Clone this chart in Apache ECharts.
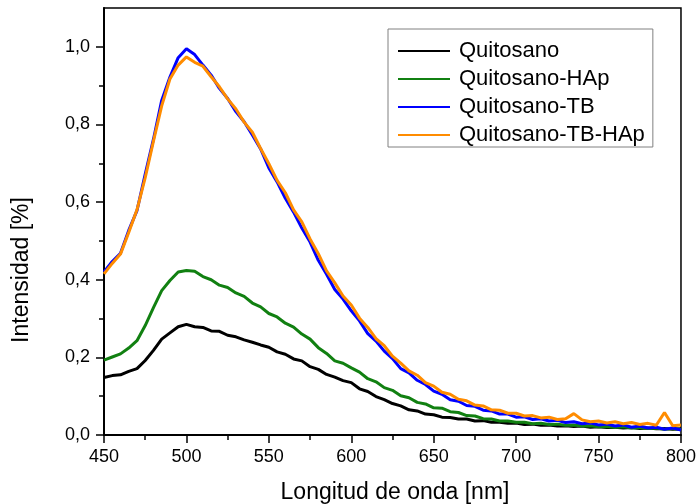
<!DOCTYPE html>
<html>
<head>
<meta charset="utf-8">
<script src="https://cdn.jsdelivr.net/npm/echarts@6/dist/echarts.min.js"></script>
<style>
html,body{margin:0;padding:0;background:#fff;}
#chart{width:699px;height:504px;}
</style>
</head>
<body>
<div id="chart"></div>
<script>
var wavelength = [450,455,460,465,470,475,480,485,490,495,500,505,510,515,520,525,530,535,540,545,550,555,560,565,570,575,580,585,590,595,600,605,610,615,620,625,630,635,640,645,650,655,660,665,670,675,680,685,690,695,700,705,710,715,720,725,730,735,740,745,750,755,760,765,770,775,780,785,790,795,800];

var quitosano = [0.148,0.153,0.155,0.164,0.171,0.192,0.218,0.247,0.263,0.279,0.285,0.279,0.277,0.268,0.267,0.257,0.253,0.245,0.239,0.232,0.226,0.214,0.208,0.196,0.191,0.176,0.169,0.156,0.149,0.140,0.135,0.119,0.112,0.099,0.091,0.081,0.075,0.065,0.062,0.054,0.052,0.046,0.045,0.041,0.041,0.036,0.037,0.033,0.033,0.030,0.031,0.027,0.028,0.025,0.026,0.023,0.024,0.022,0.023,0.020,0.021,0.019,0.020,0.018,0.019,0.017,0.018,0.016,0.017,0.015,0.016];

var quitosanoHAp = [0.193,0.201,0.209,0.224,0.243,0.282,0.328,0.372,0.398,0.420,0.424,0.422,0.408,0.400,0.386,0.380,0.366,0.357,0.340,0.330,0.313,0.304,0.288,0.278,0.260,0.247,0.225,0.210,0.191,0.185,0.173,0.162,0.145,0.137,0.122,0.115,0.101,0.096,0.084,0.080,0.070,0.069,0.060,0.058,0.050,0.049,0.042,0.041,0.036,0.036,0.033,0.033,0.029,0.030,0.027,0.028,0.025,0.026,0.023,0.024,0.021,0.022,0.019,0.021,0.018,0.019,0.017,0.018,0.015,0.017,0.014];

var quitosanoTB = [0.420,0.447,0.468,0.527,0.578,0.672,0.762,0.862,0.922,0.972,0.995,0.980,0.953,0.927,0.893,0.867,0.833,0.807,0.773,0.737,0.688,0.652,0.610,0.574,0.533,0.497,0.450,0.414,0.375,0.350,0.320,0.294,0.261,0.242,0.216,0.197,0.171,0.160,0.141,0.130,0.113,0.105,0.091,0.087,0.076,0.074,0.064,0.062,0.054,0.054,0.046,0.047,0.040,0.042,0.036,0.038,0.032,0.034,0.029,0.031,0.026,0.028,0.023,0.026,0.020,0.023,0.018,0.020,0.015,0.018,0.013];

var quitosanoTBHAp = [0.415,0.442,0.466,0.522,0.580,0.663,0.757,0.848,0.917,0.953,0.974,0.960,0.950,0.923,0.897,0.866,0.840,0.806,0.780,0.738,0.699,0.656,0.624,0.580,0.549,0.505,0.467,0.423,0.392,0.358,0.335,0.301,0.277,0.248,0.230,0.203,0.185,0.165,0.154,0.135,0.126,0.110,0.105,0.092,0.088,0.077,0.075,0.065,0.064,0.056,0.056,0.049,0.050,0.044,0.046,0.040,0.042,0.055,0.039,0.034,0.036,0.031,0.034,0.029,0.032,0.027,0.030,0.025,0.058,0.024,0.026];

var seriesNames = ['Quitosano','Quitosano-HAp','Quitosano-TB','Quitosano-TB-HAp'];
var seriesColors = ['#000000','#118011','#0000ff','#ff8c00'];
var seriesValues = [quitosano, quitosanoHAp, quitosanoTB, quitosanoTBHAp];

var xMajorTicks = [450,500,550,600,650,700,750,800];
var yMajorTicks = [0,0.2,0.4,0.6,0.8,1.0];
var yMinorTicks = [0.1,0.3,0.5,0.7,0.9];
var xTitle = 'Longitud de onda [nm]';
var yTitle = 'Intensidad [%]';

var FONT = 'Liberation Sans, Arial, sans-serif';

function pairs(ys){
  var out = [];
  for (var i = 0; i < wavelength.length; i++) out.push([wavelength[i], ys[i]]);
  return out;
}

var series = seriesNames.map(function(n, i){
  return {
    name: n, type: 'line', data: pairs(seriesValues[i]),
    showSymbol: false, symbol: 'none', smooth: false, animation: false,
    lineStyle: {color: seriesColors[i], width: 3},
    itemStyle: {color: seriesColors[i]},
    xAxisIndex: 0, yAxisIndex: 0
  };
});

var chart = echarts.init(document.getElementById('chart'), null, {renderer: 'canvas'});
chart.setOption({
  animation: false,
  backgroundColor: '#ffffff',
  grid: {left: 104, right: 12, top: 8, bottom: 69, show: true, borderColor: '#000', borderWidth: 1.5, backgroundColor: 'transparent'},
  legend: {
    data: seriesNames,
    orient: 'vertical', left: 388, top: 29,
    padding: [11, 8, 1, 9], itemGap: 6,
    itemWidth: 52, itemHeight: 14,
    borderColor: '#808080', borderWidth: 1, backgroundColor: '#fff',
    lineStyle: {width: 2},
    itemStyle: {opacity: 0, borderWidth: 0},
    textStyle: {fontFamily: FONT, fontSize: 22, color: '#000', padding: [0,0,0,4]}
  },
  xAxis: [{
    type: 'value', min: 450, max: 800, interval: 50,
    axisLine: {show: true, onZero: false, lineStyle: {color: '#000', width: 2}},
    axisTick: {show: true, inside: false, length: 8, lineStyle: {color: '#000', width: 1.5}},
    minorTick: {show: true, splitNumber: 2, length: 5, lineStyle: {color: '#000', width: 1.5}},
    splitLine: {show: false}, minorSplitLine: {show: false},
    axisLabel: {fontFamily: FONT, fontSize: 18, color: '#000', margin: 13,
      customValues: xMajorTicks}
  }],
  yAxis: [{
    type: 'value', min: 0, max: 1.1,
    axisLine: {show: true, onZero: false, lineStyle: {color: '#000', width: 2}},
    axisTick: {show: true, inside: false, length: 8, customValues: yMajorTicks, lineStyle: {color: '#000', width: 1.5}},
    splitLine: {show: false},
    axisLabel: {fontFamily: FONT, fontSize: 18, color: '#000', margin: 14,
      customValues: yMajorTicks,
      formatter: function(v){ return v.toFixed(1).replace('.', ','); }}
  },{
    type: 'value', min: 0, max: 1.1, position: 'left',
    axisLine: {show: false},
    axisTick: {show: true, inside: false, length: 5, customValues: yMinorTicks, lineStyle: {color: '#000', width: 1.5}},
    splitLine: {show: false},
    axisLabel: {show: false}
  }],
  series: series,
  graphic: [
    {type: 'text', x: 395, y: 493, style: {text: xTitle, font: '23px ' + FONT, fill: '#000', align: 'center', verticalAlign: 'middle'}},
    {type: 'text', x: 22, y: 270, rotation: Math.PI/2, style: {text: yTitle, font: '23px ' + FONT, fill: '#000', align: 'center', verticalAlign: 'middle'}}
  ]
});
</script>
</body>
</html>
